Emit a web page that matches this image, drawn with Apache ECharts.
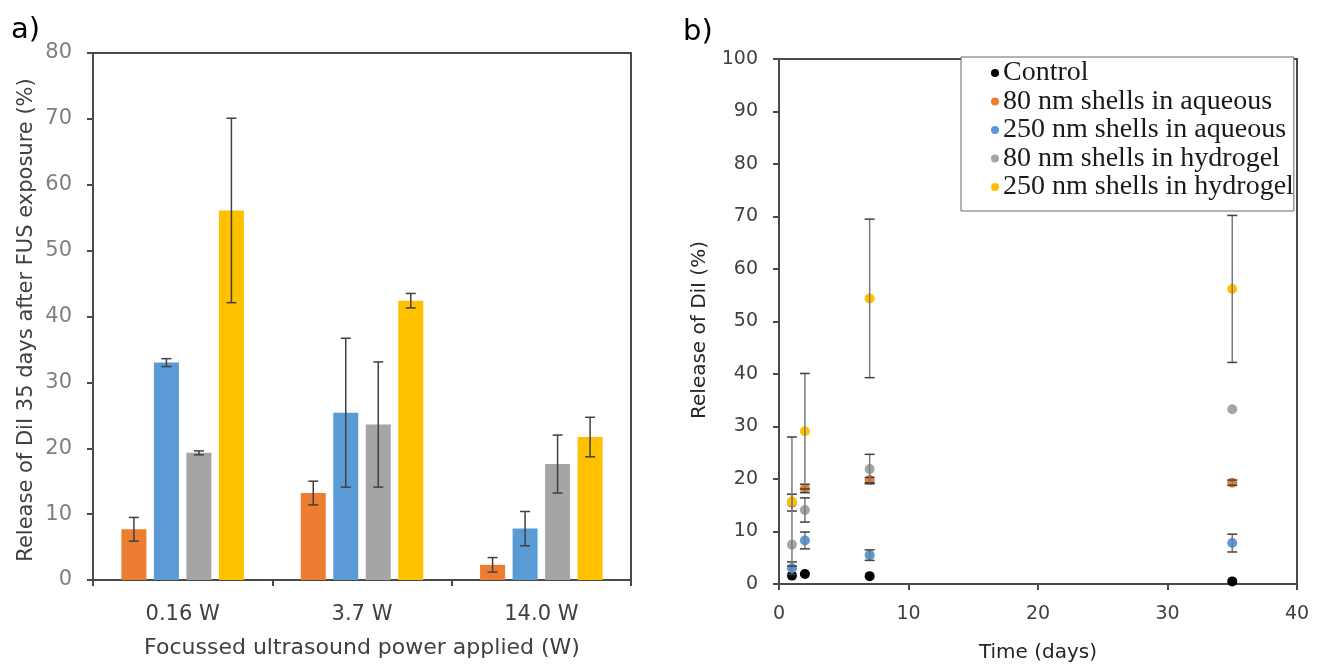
<!DOCTYPE html>
<html>
<head>
<meta charset="utf-8">
<script src="https://cdn.jsdelivr.net/npm/echarts@6/dist/echarts.min.js"></script>
<style>
html,body{margin:0;padding:0;background:#fff;}
#c{width:1324px;height:668px;}
</style>
</head>
<body>
<div id="c"></div>
<script>
// ---------- Panel a data ----------
const powerCats = ['0.16 W', '3.7 W', '14.0 W'];
const aOrange = [7.7, 13.2, 2.3];
const aOrangeErr = [1.8, 1.8, 1.1];
const aBlue = [33.0, 25.4, 7.8];
const aBlueErr = [0.6, 11.3, 2.6];
const aGray = [19.3, 23.6, 17.6];
const aGrayErr = [0.3, 9.5, 4.4];
const aYellow = [56.1, 42.4, 21.7];
const aYellowErr = [14.0, 1.1, 3.0];

// ---------- Panel b data ----------
const days = [1, 2, 7, 35];
const bControl = [1.6, 1.9, 1.5, 0.5];
const bControlErr = [0, 0, 0, 0];
const b80Aq = [15.5, 18.2, 19.8, 19.3];
const b80AqErr = [1.6, 0.8, 0.5, 0.5];
const b250Aq = [3.0, 8.3, 5.5, 7.8];
const b250AqErr = [1.2, 1.6, 1.0, 1.7];
const b80Hy = [7.5, 14.1, 21.9, 33.3];
const b80HyErr = [0, 2.3, 2.8, 0];
const b250Hy = [15.7, 29.1, 54.4, 56.2];
const b250HyErr = [12.3, 11.0, 15.1, 14.0];
const bNames = ['Control', '80 nm shells in aqueous', '250 nm shells in aqueous', '80 nm shells in hydrogel', '250 nm shells in hydrogel'];

const COL = {orange:'#ED7D31', blue:'#5B9BD5', gray:'#A5A5A5', yellow:'#FFC000', black:'#000000'};
const FONT = 'DejaVu Sans';

const chart = echarts.init(document.getElementById('c'), null, {renderer:'canvas'});

const BAR_W = 25, BAR_STEP = 32.5;

function barErr(vals, errs, k) {
  return {
    type: 'custom', xAxisIndex: 0, yAxisIndex: 0, z: 5,
    data: vals.map((v, i) => [i, v, errs[i]]),
    renderItem: function (params, api) {
      const c = api.coord([api.value(0), api.value(1)]);
      const x = c[0] + (k - 1.5) * BAR_STEP;
      const hi = api.coord([api.value(0), api.value(1) + api.value(2)])[1];
      const lo = api.coord([api.value(0), api.value(1) - api.value(2)])[1];
      const st = {stroke: '#404040', lineWidth: 1.5};
      return {type:'group', children:[
        {type:'line', shape:{x1:x, y1:hi, x2:x, y2:lo}, style:st},
        {type:'line', shape:{x1:x-5, y1:hi, x2:x+5, y2:hi}, style:st},
        {type:'line', shape:{x1:x-5, y1:lo, x2:x+5, y2:lo}, style:st}
      ]};
    }
  };
}

function ptErr(vals, errs) {
  return {
    type: 'custom', xAxisIndex: 1, yAxisIndex: 1, z: 6,
    data: vals.map((v, i) => [days[i], v, errs[i]]).filter(d => d[2] > 0),
    renderItem: function (params, api) {
      const x = api.coord([api.value(0), api.value(1)])[0];
      const hi = api.coord([api.value(0), api.value(1) + api.value(2)])[1];
      const lo = api.coord([api.value(0), api.value(1) - api.value(2)])[1];
      return {type:'group', children:[
        {type:'line', shape:{x1:x, y1:hi, x2:x, y2:lo}, style:{stroke:'#7a7a7a', lineWidth:1.5}},
        {type:'line', shape:{x1:x-5, y1:hi, x2:x+5, y2:hi}, style:{stroke:'#404040', lineWidth:1.5}},
        {type:'line', shape:{x1:x-5, y1:lo, x2:x+5, y2:lo}, style:{stroke:'#404040', lineWidth:1.5}}
      ]};
    }
  };
}

function scat(name, vals, color) {
  return {
    name: name, type: 'scatter', xAxisIndex: 1, yAxisIndex: 1, z: 4,
    symbol: 'circle', symbolSize: 10,
    itemStyle: {color: color, opacity: 1},
    data: vals.map((v, i) => [days[i], v])
  };
}

const axisLine = {show: true, lineStyle: {color: '#4a4a4a', width: 2}};
const tick = {show: true, length: 6, lineStyle: {color: '#4a4a4a', width: 2}};

const option = {
  animation: false,
  backgroundColor: '#fff',
  textStyle: {fontFamily: FONT},
  title: [
    {text: 'a)', left: 6, top: 11, textStyle: {fontFamily: FONT, fontSize: 29, fontWeight: 'normal', color: '#000'}},
    {text: 'b)', left: 678, top: 13, textStyle: {fontFamily: FONT, fontSize: 29, fontWeight: 'normal', color: '#000'}}
  ],
  graphic: [
    {type: 'text', x: 27, y: 320, rotation: Math.PI / 2,
     style: {text: 'Release of DiI 35 days after FUS exposure (%)', fontFamily: FONT, fontSize: 21, fill: '#404040', align: 'center', verticalAlign: 'middle'}},
    {type: 'text', x: 700, y: 330, rotation: Math.PI / 2,
     style: {text: 'Release of DiI (%)', fontFamily: FONT, fontSize: 20, fill: '#262626', align: 'center', verticalAlign: 'middle'}}
  ],
  legend: {
    data: bNames,
    orient: 'vertical',
    left: 961, top: 57,
    itemWidth: 8, itemHeight: 8, itemGap: 0.5,
    icon: 'circle',
    padding: [2, 0, 10, 30],
    borderColor: '#666', borderWidth: 1,
    backgroundColor: '#fff',
    textStyle: {fontFamily: 'Liberation Serif', fontSize: 28, lineHeight: 26.5, color: '#1a1a1a', padding: [0, 0, 0, -1]}
  },
  grid: [
    {left: 93, top: 53, width: 538, height: 527, show: true, borderColor: '#4a4a4a', borderWidth: 2, containLabel: false},
    {left: 779, top: 59, width: 518, height: 527, show: true, borderColor: '#4a4a4a', borderWidth: 2, containLabel: false}
  ],
  xAxis: [
    {
      type: 'category', gridIndex: 0, data: powerCats,
      axisLine: axisLine,
      axisTick: Object.assign({alignWithLabel: false}, tick),
      axisLabel: {margin: 24, color: '#404040', fontFamily: FONT, fontSize: 21},
      name: 'Focussed ultrasound power applied (W)', nameLocation: 'middle', nameGap: 57,
      nameTextStyle: {fontFamily: FONT, fontSize: 22, color: '#404040'}
    },
    {
      type: 'value', gridIndex: 1, min: 0, max: 40, interval: 10,
      axisLine: axisLine,
      axisTick: tick,
      splitLine: {show: false},
      axisLabel: {margin: 21, color: '#404040', fontFamily: FONT, fontSize: 19},
      name: 'Time (days)', nameLocation: 'middle', nameGap: 59,
      nameTextStyle: {fontFamily: FONT, fontSize: 20, color: '#262626'}
    }
  ],
  yAxis: [
    {
      type: 'value', gridIndex: 0, min: 0, max: 80, interval: 10,
      axisLine: axisLine,
      axisTick: tick,
      splitLine: {show: false},
      axisLabel: {margin: 21, color: '#7f7f7f', fontFamily: FONT, fontSize: 21}
    },
    {
      type: 'value', gridIndex: 1, min: 0, max: 100, interval: 10,
      axisLine: axisLine,
      axisTick: tick,
      splitLine: {show: false},
      axisLabel: {margin: 21, color: '#404040', fontFamily: FONT, fontSize: 19}
    }
  ],
  series: [
    {type:'bar', xAxisIndex:0, yAxisIndex:0, data:aOrange, barWidth:BAR_W, barGap:'30%', itemStyle:{color:COL.orange}},
    {type:'bar', xAxisIndex:0, yAxisIndex:0, data:aBlue, barWidth:BAR_W, barGap:'30%', itemStyle:{color:COL.blue}},
    {type:'bar', xAxisIndex:0, yAxisIndex:0, data:aGray, barWidth:BAR_W, barGap:'30%', itemStyle:{color:COL.gray}},
    {type:'bar', xAxisIndex:0, yAxisIndex:0, data:aYellow, barWidth:BAR_W, barGap:'30%', itemStyle:{color:COL.yellow}},
    barErr(aOrange, aOrangeErr, 0),
    barErr(aBlue, aBlueErr, 1),
    barErr(aGray, aGrayErr, 2),
    barErr(aYellow, aYellowErr, 3),
    scat(bNames[0], bControl, COL.black),
    scat(bNames[1], b80Aq, COL.orange),
    scat(bNames[2], b250Aq, COL.blue),
    scat(bNames[3], b80Hy, COL.gray),
    scat(bNames[4], b250Hy, COL.yellow),
    ptErr(bControl, bControlErr),
    ptErr(b80Aq, b80AqErr),
    ptErr(b250Aq, b250AqErr),
    ptErr(b80Hy, b80HyErr),
    ptErr(b250Hy, b250HyErr)
  ]
};
chart.setOption(option);
</script>
</body>
</html>
